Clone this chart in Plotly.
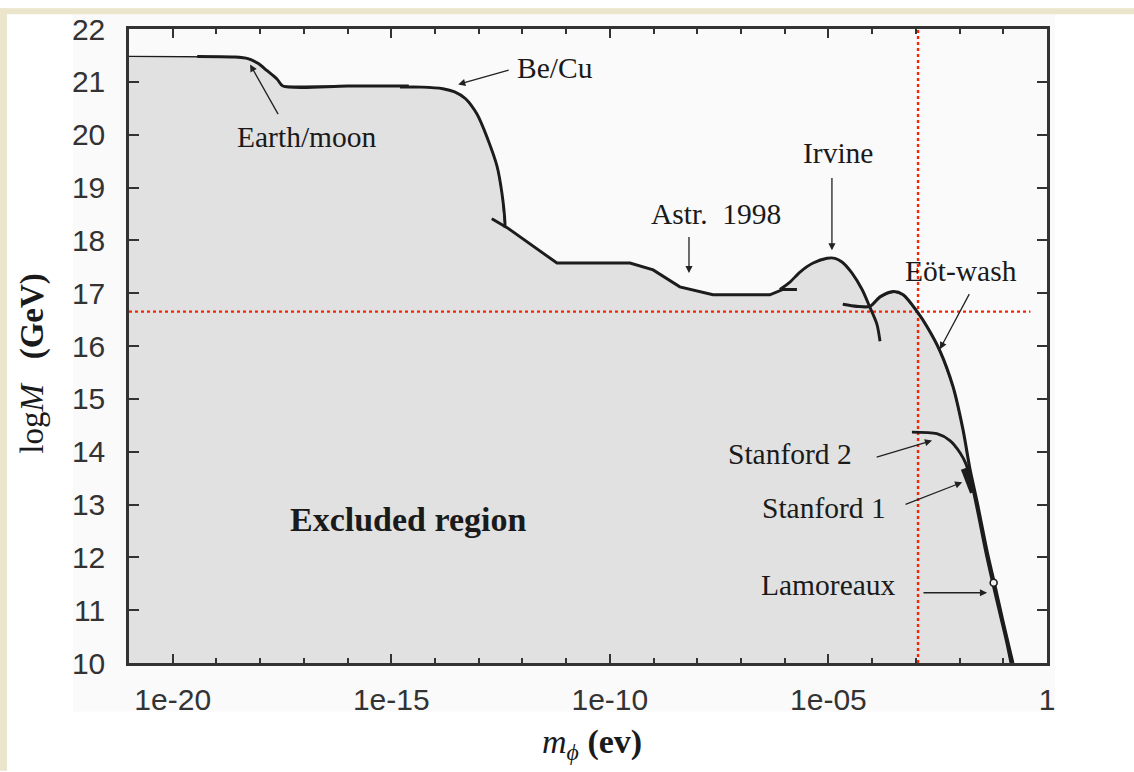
import plotly.graph_objects as go

# ---- curve data: log10(m_phi / eV) and log10(M / GeV) ----
earth_moon_logm = [-21.0, -19.44, -18.60, -18.28, -18.05, -17.84, -17.61, -17.48, -16.0, -14.6]
earth_moon_logM = [21.48, 21.48, 21.47, 21.44, 21.35, 21.21, 21.05, 20.92, 20.92, 20.92]

becu_logm = [-14.80, -14.30, -13.82, -13.55, -13.30, -13.04, -12.79, -12.58, -12.47, -12.40, -12.40]
becu_logM = [20.90, 20.90, 20.87, 20.81, 20.68, 20.39, 19.91, 19.40, 18.90, 18.34, 18.24]

astr_logm = [-12.70, -12.35, -11.21, -9.54, -9.01, -8.40, -7.64, -6.34, -6.04, -5.72]
astr_logM = [18.41, 18.24, 17.57, 17.57, 17.44, 17.12, 16.97, 16.97, 17.07, 17.07]

irvine_logm = [-6.11, -5.88, -5.65, -5.35, -5.03, -4.85, -4.69, -4.46, -4.23, -4.05, -3.89, -3.82]
irvine_logM = [17.07, 17.21, 17.40, 17.57, 17.66, 17.66, 17.59, 17.38, 17.07, 16.73, 16.41, 16.09]

eotwash_logm = [-4.67, -4.35, -4.05, -3.82, -3.52, -3.29, -2.97, -2.74, -2.45, -2.15,
                -1.92, -1.76, -1.60, -1.37, -1.20, -1.01, -0.78]
eotwash_logM = [16.79, 16.75, 16.75, 16.93, 17.03, 16.97, 16.65, 16.36, 15.91, 15.23,
                14.41, 13.66, 13.05, 12.11, 11.50, 10.80, 10.00]

stanford2_logm = [-3.09, -2.52, -2.22, -1.99, -1.85, -1.76]
stanford2_logM = [14.37, 14.34, 14.21, 13.98, 13.76, 13.51]

stanford1_logm = [-1.90, -1.69]
stanford1_logM = [13.68, 13.23]

lamoreaux_logm = [-1.80, -1.60, -1.38, -1.16, -0.93, -0.83]
lamoreaux_logM = [13.70, 12.90, 12.00, 11.20, 10.40, 10.00]
lamoreaux_point = (-1.22, 11.52)

# reference lines
ref_logM = 16.65
ref_logm = -2.95
ref_h_end = -0.38

# axis ticks
x_major_exp = [-20, -15, -10, -5, 0]
x_major_text = ["1e-20", "1e-15", "1e-10", "1e-05", "1"]
x_minor_exp = [e for e in range(-21, 1) if e not in x_major_exp]
y_range = [10, 22]

# (text, text log m, text log M, arrow tail log m, tail log M, head log m, head log M)
labels = [
    ("Earth/moon", -16.93, 19.96, -17.57, 20.36, -18.23, 21.33),
    ("Be/Cu", -11.25, 21.27, -12.28, 21.23, -13.47, 20.95),
    ("Astr.  1998", -7.57, 18.50, -8.19, 18.09, -8.19, 17.38),
    ("Irvine", -4.78, 19.65, -4.92, 19.21, -4.92, 17.81),
    ("Eöt-wash", -1.97, 17.42, -1.76, 17.01, -2.45, 15.94),
    ("Stanford 2", -5.88, 13.96, -3.93, 13.89, -2.63, 14.21),
    ("Stanford 1", -5.10, 12.94, -3.27, 12.99, -1.94, 13.42),
    ("Lamoreaux", -4.99, 11.48, -2.86, 11.33, -1.37, 11.33),
]

W, H = 1134, 772
ML, MR, MT, MB = 129, 87, 21, 109
PW, PH = W - ML - MR, H - MT - MB

def px(x):
    return (x - ML) / PW

def py(y):
    return (H - MB - y) / PH

FILL = "#e1e1e1"
INK = "#1c1c1c"
PLOT_BG = "#fafafa"

fig = go.Figure()

def pw(vals):
    return [10 ** v for v in vals]

curves = [
    (earth_moon_logm, earth_moon_logM),
    (becu_logm, becu_logM),
    (astr_logm, astr_logM),
    (irvine_logm, irvine_logM),
    (eotwash_logm, eotwash_logM),
]

# excluded region: area under each bound
for xs, ys in curves:
    fig.add_trace(go.Scatter(
        x=pw(xs), y=ys, mode="lines", fill="tozeroy", fillcolor=FILL,
        line=dict(color=INK, width=1.3), hoverinfo="skip", showlegend=False))

# reference lines
fig.add_trace(go.Scatter(
    x=[10 ** -21, 10 ** ref_h_end], y=[ref_logM, ref_logM], mode="lines",
    line=dict(color="#ff2200", width=2.4, dash="3px,3px"), showlegend=False))
fig.add_trace(go.Scatter(
    x=[10 ** ref_logm, 10 ** ref_logm], y=[10, 22], mode="lines",
    line=dict(color="#ff2200", width=2.4, dash="3px,3px"), showlegend=False))

# bound curves
line_curves = [
    (earth_moon_logm[1:], earth_moon_logM[1:], 2.9, "spline", 0.8),
    (becu_logm, becu_logM, 2.9, "spline", 0.9),
    (astr_logm, astr_logM, 2.9, "linear", 0),
    (irvine_logm, irvine_logM, 2.9, "spline", 0.8),
    (eotwash_logm, eotwash_logM, 3.1, "spline", 0.8),
    (stanford2_logm, stanford2_logM, 2.9, "spline", 0.8),
    (lamoreaux_logm, lamoreaux_logM, 2.4, "spline", 0.8),
    (stanford1_logm, stanford1_logM, 6.5, "linear", 0),
]
for xs, ys, w, shape, sm in line_curves:
    line = dict(color=INK, width=w, shape=shape)
    if shape == "spline":
        line["smoothing"] = sm
    fig.add_trace(go.Scatter(
        x=pw(xs), y=ys, mode="lines", line=line,
        hoverinfo="skip", showlegend=False))

fig.add_trace(go.Scatter(
    x=[10 ** lamoreaux_point[0]], y=[lamoreaux_point[1]], mode="markers",
    marker=dict(symbol="circle", size=7, color="#f2f2f2", line=dict(color=INK, width=1.6)),
    showlegend=False))

annotations = []
serif = "Liberation Serif, Times New Roman, serif"
for text, tx, ty, ax, ay, hx, hy in labels:
    annotations.append(dict(
        x=tx, y=ty, xref="x", yref="y", text=text, showarrow=False,
        font=dict(family=serif, size=29.5, color="#1a1a1a")))
    annotations.append(dict(
        x=hx, y=hy, ax=ax, ay=ay, xref="x", yref="y", axref="x", ayref="y",
        text="", showarrow=True, arrowhead=2, arrowsize=1.1, arrowwidth=1.3,
        arrowcolor="#222222", standoff=0, startstandoff=0))

annotations.append(dict(
    x=-14.60, y=12.71, xref="x", yref="y", text="<b>Excluded region</b>",
    showarrow=False, font=dict(family=serif, size=34, color="#1a1a1a")))

# axis titles
annotations.append(dict(
    x=px(33), y=py(360), xref="paper", yref="paper", xanchor="center", yanchor="middle",
    textangle=-90, text="log<i>M</i>&nbsp;&nbsp;&nbsp;<b>(GeV)</b>", showarrow=False,
    font=dict(family=serif, size=33, color="#1a1a1a")))
annotations.append(dict(
    x=px(592), y=py(745), xref="paper", yref="paper", xanchor="center", yanchor="middle",
    text="<i>m</i><sub><i>ϕ</i></sub>&nbsp;<b>(ev)</b>", showarrow=False,
    font=dict(family=serif, size=34, color="#1a1a1a")))

# page decorations: light panel behind the chart and the parchment edge
shapes = [
    dict(type="rect", xref="paper", yref="paper", layer="below",
         x0=px(73), x1=px(1055), y0=py(712), y1=py(6),
         fillcolor=PLOT_BG, line=dict(width=0)),
    dict(type="rect", xref="paper", yref="paper", layer="below",
         x0=px(0), x1=px(W), y0=py(6), y1=py(0),
         fillcolor="#ebe5cb", line=dict(width=0)),
    dict(type="rect", xref="paper", yref="paper", layer="below",
         x0=px(0), x1=px(7), y0=py(H), y1=py(0),
         fillcolor="#ebe5cb", line=dict(width=0)),
]

tick_font = dict(family="Liberation Sans, Arial, sans-serif", size=30, color="#333333")

fig.update_layout(
    width=W, height=H,
    margin=dict(l=ML, r=MR, t=MT, b=MB, pad=0),
    paper_bgcolor="white", plot_bgcolor=PLOT_BG,
    annotations=annotations, shapes=shapes, showlegend=False,
    xaxis=dict(
        type="log", range=[-21, 0],
        tickvals=[10 ** e for e in x_major_exp], ticktext=x_major_text,
        ticks="inside", ticklen=9, tickwidth=1.6, tickcolor="#333333",
        minor=dict(tickvals=[10 ** e for e in x_minor_exp], ticks="inside",
                   ticklen=5, tickwidth=1.6, tickcolor="#333333"),
        showline=True, linewidth=2.5, linecolor="#333333", mirror="ticks",
        showgrid=False, zeroline=False, tickfont=tick_font, ticklabelstandoff=8),
    yaxis=dict(
        range=y_range, dtick=1, tick0=10,
        ticks="inside", ticklen=10, tickwidth=1.6, tickcolor="#333333",
        showline=True, linewidth=2.5, linecolor="#333333", mirror="ticks",
        showgrid=False, zeroline=False, tickfont=tick_font, ticklabelstandoff=15),
)

fig.write_html("out.html")
